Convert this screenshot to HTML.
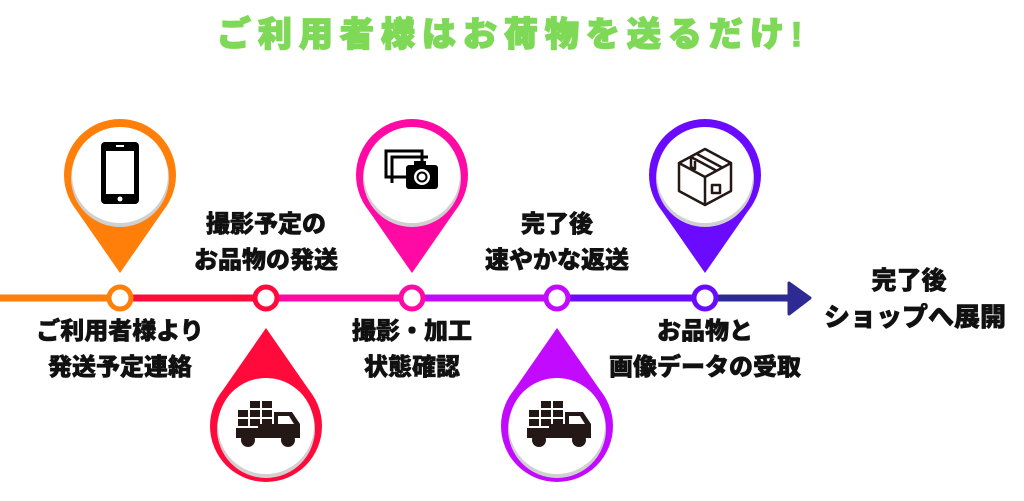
<!DOCTYPE html>
<html><head><meta charset="utf-8"><style>
body{margin:0;background:#fff;width:1024px;height:501px;overflow:hidden}
svg{display:block}
text{font-family:"Liberation Sans","Noto Sans CJK JP",sans-serif;font-weight:900}
</style></head><body>
<svg width="1024" height="501" viewBox="0 0 1024 501">
<defs>
<g id="pinU">
 <circle cx="0" cy="0" r="56"/>
 <polygon points="0,98 -46.5,31 46.5,31"/>
</g>
<g id="pinD">
 <circle cx="0" cy="0" r="56"/>
 <polygon points="0,-98 -46.5,-31 46.5,-31"/>
</g>
<g id="inner">
 <circle cx="0" cy="3" r="49" fill="#d0d0d0"/>
 <circle cx="0" cy="0" r="48" fill="#fff"/>
</g>
<g id="truck" fill="#231815">
 <rect x="-28" y="-16" width="10" height="7"/><rect x="-16" y="-16" width="10" height="7"/><rect x="-4" y="-16" width="10" height="7"/>
 <rect x="-28" y="-7" width="10" height="7"/><rect x="-16" y="-7" width="10" height="7"/><rect x="-4" y="-7" width="10" height="7"/>
 <rect x="-16" y="-25" width="10" height="7"/><rect x="-4" y="-25" width="10" height="7"/>
 <path d="M8,-14 h18 l8,12 v14 h-42 v-14 h16z"/>
 <rect x="-30" y="2" width="64" height="10"/>
 <circle cx="-18" cy="14" r="7"/><circle cx="22" cy="14" r="7"/>
 <path d="M12,-10 h11 l5,8 h-16z" fill="#fff"/>
</g>
</defs>

<text x="513" y="46" text-anchor="middle" font-size="34" fill="#7ED957" stroke="#7ED957" stroke-width="1.5" letter-spacing="7">ご利用者様はお荷物を送るだけ!</text>

<line x1="0" y1="298" x2="120" y2="298" stroke="#FF7F0A" stroke-width="7"/>
<line x1="120" y1="298" x2="266" y2="298" stroke="#FF0A3A" stroke-width="7"/>
<line x1="266" y1="298" x2="412" y2="298" stroke="#FF0AA5" stroke-width="7"/>
<line x1="412" y1="298" x2="557" y2="298" stroke="#C20AFF" stroke-width="7"/>
<line x1="557" y1="298" x2="705" y2="298" stroke="#6A0AFF" stroke-width="7"/>
<line x1="705" y1="298" x2="790" y2="298" stroke="#2E2A94" stroke-width="7"/>
<polygon points="789,283 810,298 789,314" fill="#2E2A94" stroke="#2E2A94" stroke-width="3" stroke-linejoin="round"/>

<circle cx="120" cy="298" r="11" fill="#fff" stroke="#FF7F0A" stroke-width="5"/>
<circle cx="266" cy="298" r="11" fill="#fff" stroke="#FF0A3A" stroke-width="5"/>
<circle cx="412" cy="298" r="11" fill="#fff" stroke="#FF0AA5" stroke-width="5"/>
<circle cx="557" cy="298" r="11" fill="#fff" stroke="#C20AFF" stroke-width="5"/>
<circle cx="705" cy="298" r="11" fill="#fff" stroke="#6A0AFF" stroke-width="5"/>

<g transform="translate(120,175)" fill="#FF7F0A"><use href="#pinU"/><use href="#inner"/>
 <rect x="-19" y="-33" width="38" height="62" rx="4" fill="#000"/>
 <rect x="-14" y="-24" width="28" height="43" fill="#fff"/>
 <rect x="-4" y="-30" width="8" height="2" fill="#fff"/>
 <circle cx="0" cy="24" r="2.5" fill="#fff"/>
</g>
<g transform="translate(266,426)" fill="#FF0A3A"><use href="#pinD"/><use href="#inner"/>
 <use href="#truck"/>
</g>
<g transform="translate(412,175)" fill="#FF0AA5"><use href="#pinU"/><use href="#inner"/>
 <g fill="none" stroke="#000" stroke-width="3">
  <rect x="-26" y="-24" width="36" height="26"/>
  <path d="M-20,8 v-26 h36"/>
 </g>
 <rect x="-6" y="-10" width="32" height="24" rx="3" fill="#000"/>
 <rect x="2" y="-14" width="12" height="5" fill="#000"/>
 <circle cx="10" cy="2" r="8" fill="#fff"/><circle cx="10" cy="2" r="5.5" fill="#000"/><circle cx="10" cy="2" r="3.5" fill="#fff"/>
</g>
<g transform="translate(557,426)" fill="#C20AFF"><use href="#pinD"/><use href="#inner"/>
 <use href="#truck"/>
</g>
<g transform="translate(705,175)" fill="#6A0AFF"><use href="#pinU"/><use href="#inner"/>
 <g fill="none" stroke="#231815" stroke-width="2.5" stroke-linejoin="round">
  <path d="M-26,-12 L0,-26 L26,-12 L0,2 Z"/>
  <path d="M-26,-12 V16 L0,30 V2"/>
  <path d="M26,-12 V16 L0,30"/>
  <path d="M-14,-18 L12,-4 M-8,-21 L18,-7"/>
  <path d="M-14,-18 V-8 L-10,-6 V-14"/>
  <rect x="7" y="10" width="8" height="8"/>
 </g>
</g>

<g font-size="24" fill="#111" stroke="#111" stroke-width="0.6" text-anchor="middle">
 <text x="120" y="339">ご利用者様より</text>
 <text x="120" y="375">発送予定連絡</text>
 <text x="266" y="232">撮影予定の</text>
 <text x="266" y="268">お品物の発送</text>
 <text x="412" y="339">撮影・加工</text>
 <text x="412" y="375">状態確認</text>
 <text x="557" y="232">完了後</text>
 <text x="557" y="268">速やかな返送</text>
 <text x="705" y="339">お品物と</text>
 <text x="705" y="375">画像データの受取</text>
 <text x="909" y="289" font-size="25">完了後</text>
 <text x="915" y="326" font-size="26">ショップへ展開</text>
</g>
</svg>
</body></html>
